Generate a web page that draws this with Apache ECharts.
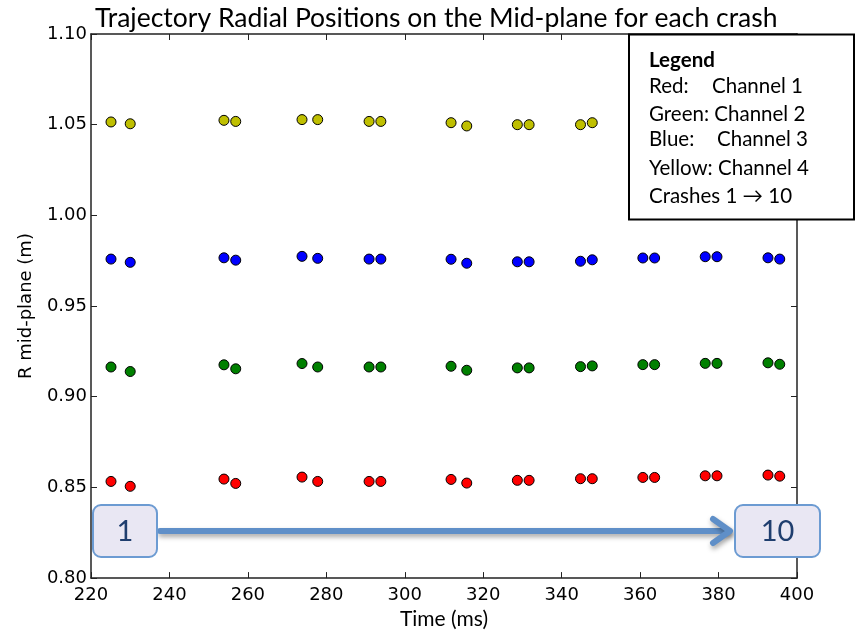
<!DOCTYPE html>
<html>
<head>
<meta charset="utf-8">
<script src="https://cdn.jsdelivr.net/npm/echarts@6/dist/echarts.min.js"></script>
<style>
  html, body { margin: 0; padding: 0; background: #fff; }
  #chart { width: 859px; height: 635px; }
</style>
</head>
<body>
<div id="chart"></div>
<script>
// Crash times (ms): two samples per crash, crashes 1 to 10
var times = [225.1, 230.0, 253.9, 256.9, 273.8, 277.8, 290.9, 293.9, 311.8, 315.8,
             328.7, 331.7, 344.8, 347.8, 360.7, 363.7, 376.6, 379.6, 392.6, 395.6];

// Radial position on the mid-plane (m) for each channel
var channel1 = [0.8533, 0.8506, 0.8546, 0.8522, 0.8557, 0.8533, 0.8533, 0.8533, 0.8544, 0.8524,
                0.8539, 0.8539, 0.8548, 0.8548, 0.8555, 0.8555, 0.8564, 0.8564, 0.8568, 0.8562];
var channel2 = [0.9164, 0.9139, 0.9176, 0.9154, 0.9183, 0.9164, 0.9164, 0.9164, 0.9168, 0.9146,
                0.9159, 0.9159, 0.9166, 0.9170, 0.9177, 0.9177, 0.9184, 0.9184, 0.9187, 0.9179];
var channel3 = [0.9759, 0.9741, 0.9766, 0.9753, 0.9774, 0.9763, 0.9759, 0.9759, 0.9758, 0.9736,
                0.9744, 0.9744, 0.9747, 0.9755, 0.9765, 0.9765, 0.9772, 0.9772, 0.9766, 0.9759];
var channel4 = [1.0515, 1.0505, 1.0524, 1.0518, 1.0528, 1.0528, 1.0518, 1.0518, 1.0511, 1.0493,
                1.0500, 1.0500, 1.0500, 1.0511];

var xTicks = [220, 240, 260, 280, 300, 320, 340, 360, 380, 400];
var yTicks = [0.80, 0.85, 0.90, 0.95, 1.00, 1.05, 1.10];

var channelColors = ['#ff0000', '#008000', '#0000ff', '#bfbf00'];
var channelValues = [channel1, channel2, channel3, channel4];

function pairs(values) {
  return values.map(function (v, i) { return [times[i], v]; });
}

var axisColor = '#222';
var tickFont = { fontFamily: 'DejaVu Sans', fontSize: 18, color: '#000' };

var chart = echarts.init(document.getElementById('chart'), null, { renderer: 'canvas' });

var series = channelValues.map(function (vals, k) {
  return {
    type: 'scatter',
    data: pairs(vals),
    symbol: 'circle',
    symbolSize: 10,
    itemStyle: { color: channelColors[k], borderColor: '#000', borderWidth: 1, opacity: 1 },
    emphasis: { disabled: true },
    z: 3
  };
});

var legendLines = [
  { text: 'Legend', y: 60, bold: true },
  { text: 'Red:', y: 86, x2: 712, text2: 'Channel 1' },
  { text: 'Green: Channel 2', y: 114 },
  { text: 'Blue:', y: 139, x2: 717, text2: 'Channel 3' },
  { text: 'Yellow: Channel 4', y: 168 },
  { text: 'Crashes 1 \u2192 10', y: 196 }
];

var legendFont = 'Lato';
var legendSize = 20.5;

var legendChildren = [{
  type: 'rect', z: 200,
  shape: { x: 629, y: 34.5, width: 225, height: 185 },
  style: { fill: '#fff', stroke: '#000', lineWidth: 2 }
}];
legendLines.forEach(function (ln) {
  legendChildren.push({
    type: 'text', x: 649, y: ln.y, z: 201,
    style: { text: ln.text, fontFamily: legendFont, fontSize: legendSize, fontWeight: ln.bold ? 'bold' : 'normal',
             fill: '#000', textVerticalAlign: 'middle', verticalAlign: 'middle' }
  });
  if (ln.text2) {
    legendChildren.push({
      type: 'text', x: ln.x2, y: ln.y, z: 201,
      style: { text: ln.text2, fontFamily: legendFont, fontSize: legendSize, fill: '#000',
               textVerticalAlign: 'middle', verticalAlign: 'middle' }
    });
  }
});

function crashBox(x, w, label) {
  return [
    { type: 'rect', z: 195, shape: { x: x, y: 505, width: w, height: 52, r: 8 },
      style: { fill: '#e9e7f3', stroke: '#6c9bd2', lineWidth: 2 } },
    { type: 'text', z: 196, x: x + w / 2, y: 532,
      style: { text: label, fontFamily: 'Lato', fontSize: 29, fill: '#1f3e6e',
               align: 'center', verticalAlign: 'middle', textAlign: 'center', textVerticalAlign: 'middle' } }
  ];
}

var arrowStyle = {
  stroke: '#5f8fc8', lineWidth: 6, lineCap: 'round', lineJoin: 'round',
  shadowBlur: 5, shadowOffsetX: 1, shadowOffsetY: 3, shadowColor: 'rgba(0,0,0,0.35)'
};

var option = {
  animation: false,
  backgroundColor: '#fff',
  title: {
    text: 'Trajectory Radial Positions on the Mid-plane for each crash',
    left: 90, top: 0,
    textStyle: { fontFamily: 'Lato', fontSize: 26.5, fontWeight: 'normal', color: '#000' }
  },
  grid: { left: 91, right: 62, top: 34, bottom: 55, containLabel: false },
  xAxis: [{
    type: 'value', position: 'bottom', min: 220, max: 400, interval: 20,
    name: 'Time (ms)', nameLocation: 'middle', nameGap: 29,
    nameTextStyle: { fontFamily: 'Lato', fontSize: 21, color: '#000' },
    axisLine: { show: true, lineStyle: { color: axisColor, width: 1.5 } },
    axisTick: { show: true, inside: true, length: 6, lineStyle: { color: axisColor } },
    axisLabel: Object.assign({ margin: 8, formatter: function (v) { return xTicks.indexOf(v) >= 0 ? String(v) : ''; } }, tickFont),
    splitLine: { show: false }
  }, {
    type: 'value', position: 'top', min: 220, max: 400, interval: 20,
    axisLine: { show: true, lineStyle: { color: axisColor, width: 1.5 } },
    axisTick: { show: true, inside: true, length: 6, lineStyle: { color: axisColor } },
    axisLabel: { show: false },
    splitLine: { show: false }
  }],
  yAxis: [{
    type: 'value', position: 'left', min: 0.80, max: 1.10, interval: 0.05,
    name: 'R mid-plane (m)', nameLocation: 'middle', nameGap: 56, nameRotate: 90,
    nameTextStyle: { fontFamily: 'DejaVu Sans', fontSize: 18, color: '#000' },
    axisLine: { show: true, lineStyle: { color: axisColor, width: 1.5 } },
    axisTick: { show: true, inside: true, length: 6, lineStyle: { color: axisColor } },
    axisLabel: Object.assign({ margin: 4, formatter: function (v) { return v.toFixed(2); } }, tickFont),
    splitLine: { show: false }
  }, {
    type: 'value', position: 'right', min: 0.80, max: 1.10, interval: 0.05,
    axisLine: { show: true, lineStyle: { color: axisColor, width: 1.5 } },
    axisTick: { show: true, inside: true, length: 6, lineStyle: { color: axisColor } },
    axisLabel: { show: false },
    splitLine: { show: false }
  }],
  series: series,
  graphic: legendChildren
    .concat([
      { type: 'line', z: 190, shape: { x1: 160, y1: 531, x2: 729, y2: 531 }, style: arrowStyle },
      { type: 'polyline', z: 190, shape: { points: [[713, 519], [730, 531], [713, 543]] }, style: arrowStyle }
    ])
    .concat(crashBox(93, 64, '1'))
    .concat(crashBox(735, 85, '10'))
};

chart.setOption(option);
</script>
</body>
</html>
